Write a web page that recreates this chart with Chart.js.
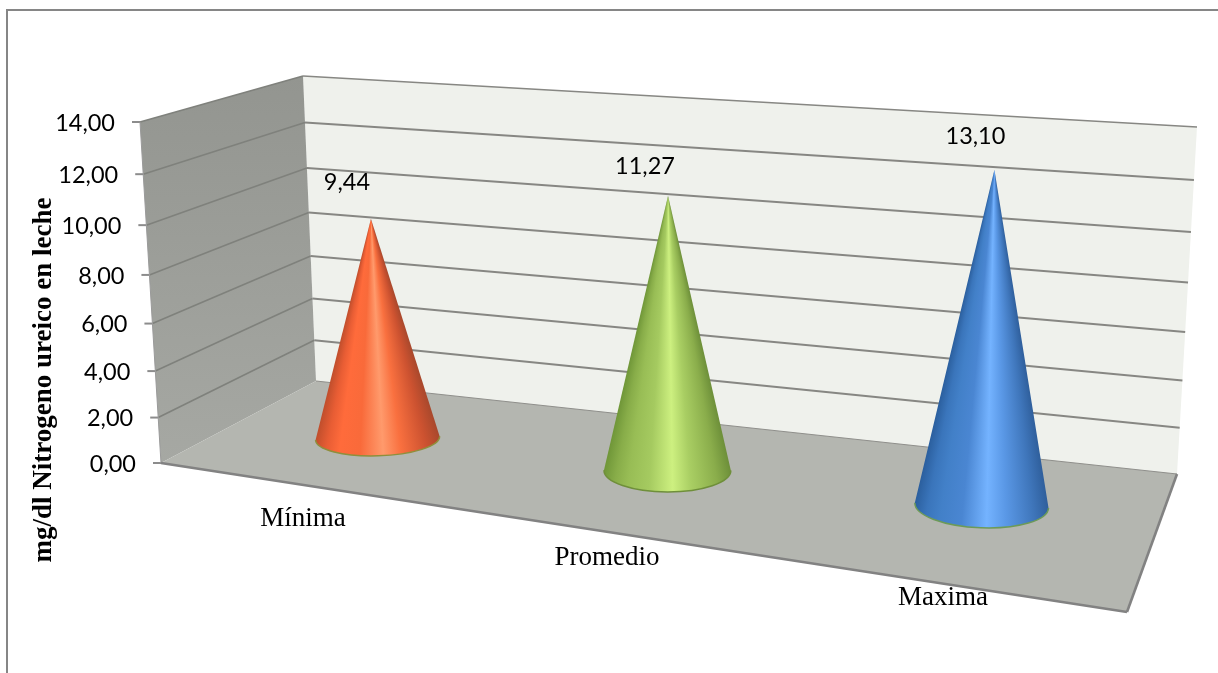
<!DOCTYPE html>
<html lang="es">
<head>
<meta charset="utf-8">
<title>Nitrogeno ureico en leche</title>
<script src="https://cdn.jsdelivr.net/npm/chart.js@4/dist/chart.umd.min.js"></script>
<style>
  html, body { margin: 0; padding: 0; background: #fff; }
  canvas { display: block; }
</style>
</head>
<body>
<canvas id="urea-chart" width="1218" height="673"></canvas>
<script>
const categories = ["Mínima", "Promedio", "Maxima"];
const ureaValues = [9.44, 11.27, 13.10];
const axisMax = 14;
const axisStep = 2;
const axisTitle = "mg/dl Nitrogeno ureico en leche";

// Geometria de la caja 3D: bl, br, tr, tl de cada plano
const BACK_WALL = [[316, 381], [1177, 474], [1197, 127], [303, 76]];
const SIDE_WALL = [[161, 463], [316, 381], [303, 76], [140, 122]];
const FLOOR = [[161, 463], [1127, 612], [1177, 474], [316, 381]];
const CONE_PLANE = [[241, 423], [1149, 524], [1170, 156], [226, 95]];

const CONE_COLORS = [
  ["#c04e2c", "#e85d34", "#ff6b3b", "#f96a3a", "#ff9a6c", "#f9703f", "#cc5230", "#a8482c"],
  ["#6f9638", "#88ad49", "#98bd55", "#a5ca60", "#cdf080", "#a9ce63", "#8aad4b", "#6d8f39"],
  ["#2b5f9e", "#3a75bb", "#4280c8", "#4a86d2", "#74b3ff", "#5a98e6", "#3f76bb", "#2f5f9c"]
];
const COLOR_STOPS = [0, 0.1, 0.2, 0.36, 0.54, 0.68, 0.88, 1];
const RIM_COLORS = ["#8f8f3c", "#6f8f3a", "#6c9a58"];
const BASE_FLATTEN = [0.285, 0.34, 0.335];
const BASE_WIDEN = [1.08, 1.02, 0.99];
const LABEL_NUDGE = [[-24, -36], [-23, -29], [-19, -33]];
const CATEGORY_LABEL_POS = [[303, 519], [607, 558], [943, 598]];

const fmt = v => v.toFixed(2).replace(".", ",");

// homografia del cuadrado unidad a un cuadrilatero
function quadMap(q) {
  const [[x0, y0], [x1, y1], [x2, y2], [x3, y3]] = q;
  const dx1 = x1 - x2, dx2 = x3 - x2, sx = x0 - x1 + x2 - x3;
  const dy1 = y1 - y2, dy2 = y3 - y2, sy = y0 - y1 + y2 - y3;
  const den = dx1 * dy2 - dx2 * dy1;
  const g = (sx * dy2 - dx2 * sy) / den;
  const h = (dx1 * sy - sx * dy1) / den;
  const a = x1 - x0 + g * x1, b = x3 - x0 + h * x3;
  const d = y1 - y0 + g * y1, e = y3 - y0 + h * y3;
  return (u, v) => {
    const w = g * u + h * v + 1;
    return { x: (a * u + b * v + x0) / w, y: (d * u + e * v + y0) / w };
  };
}

// las divisiones altas se ven algo mas grandes que las bajas
const lift = v => 0.96 * v / (1 - 0.04 * v);

function line(ctx, a, b, color, width) {
  ctx.strokeStyle = color;
  ctx.lineWidth = width;
  ctx.beginPath();
  ctx.moveTo(a.x, a.y);
  ctx.lineTo(b.x, b.y);
  ctx.stroke();
}

function fillQuad(ctx, q, fill) {
  ctx.fillStyle = fill;
  ctx.beginPath();
  q.forEach((p, i) => i ? ctx.lineTo(p[0], p[1]) : ctx.moveTo(p[0], p[1]));
  ctx.closePath();
  ctx.fill();
}

function drawBox(chart) {
  const ctx = chart.ctx;
  const yScale = chart.scales.y;
  const area = chart.chartArea;
  const back = quadMap(BACK_WALL);
  const side = quadMap(SIDE_WALL);

  ctx.fillStyle = "#fff";
  ctx.fillRect(0, 0, chart.width, chart.height);
  ctx.strokeStyle = "#868686";
  ctx.lineWidth = 2;
  ctx.strokeRect(7, 10, chart.width + 20, chart.height + 20);

  fillQuad(ctx, BACK_WALL, "#eff1ec");
  const sideFill = ctx.createLinearGradient(0, 76, 0, 463);
  sideFill.addColorStop(0, "#939590");
  sideFill.addColorStop(1, "#a6a8a3");
  fillQuad(ctx, SIDE_WALL, sideFill);

  yScale.ticks.forEach(t => {
    const v = lift((area.bottom - yScale.getPixelForValue(t.value)) / area.height);
    const front = side(0, v);
    if (t.value > 0) {
      line(ctx, front, side(1, v), "#7f817c", 1.6);
      line(ctx, back(0, v), back(1, v), "#878783", t.value === axisMax ? 1.4 : 2);
    }
    line(ctx, { x: front.x - 8, y: front.y }, front, "#8c8c8c", 2);

    ctx.fillStyle = "#000";
    ctx.font = '23.5px Lato';
    ctx.textAlign = "right";
    ctx.textBaseline = "middle";
    ctx.fillText(fmt(t.value), front.x - 25, front.y + 1);
  });
  line(ctx, side(0, 0), side(0, 1), "#9a9a9a", 1);

  fillQuad(ctx, FLOOR, "#b4b6b0");
  const floorPts = FLOOR.map(p => ({ x: p[0], y: p[1] }));
  line(ctx, floorPts[3], floorPts[2], "#8f8f8b", 1.2);
  line(ctx, floorPts[0], floorPts[1], "#828282", 2.6);
  line(ctx, floorPts[1], floorPts[2], "#828282", 2.6);
}

function drawCones(chart) {
  const ctx = chart.ctx;
  const area = chart.chartArea;
  const plane = quadMap(CONE_PLANE);
  const bars = chart.getDatasetMeta(0).data;

  bars.forEach((bar, i) => {
    const u = (bar.x - area.left) / area.width;
    const halfU = bar.width / 2 / area.width;
    const v = lift((bar.base - bar.y) / area.height);

    const base = plane(u, 0);
    const tip = plane(u, v);
    const p0 = plane(u - halfU, 0);
    const p1 = plane(u + halfU, 0);
    const rx = Math.hypot(p1.x - p0.x, p1.y - p0.y) / 2 * BASE_WIDEN[i];
    const ry = rx * BASE_FLATTEN[i];
    const rot = Math.atan2(tip.x - base.x, base.y - tip.y);
    const L = { x: base.x - rx * Math.cos(rot), y: base.y - rx * Math.sin(rot) };
    const R = { x: base.x + rx * Math.cos(rot), y: base.y + rx * Math.sin(rot) };

    // el degradado conico converge en la punta del cono
    const angR = Math.atan2(R.y - tip.y, R.x - tip.x);
    const angL = Math.atan2(L.y - tip.y, L.x - tip.x);
    const start = angR - 0.02;
    const grad = ctx.createConicGradient(start, tip.x, tip.y);
    const colors = CONE_COLORS[i];
    grad.addColorStop(0, colors[colors.length - 1]);
    COLOR_STOPS.slice().reverse().forEach((s, k) => {
      const ang = angL + (angR - angL) * s;
      grad.addColorStop((ang - start) / (Math.PI * 2), colors[colors.length - 1 - k]);
    });

    ctx.fillStyle = grad;
    ctx.beginPath();
    ctx.moveTo(tip.x, tip.y);
    ctx.lineTo(L.x, L.y);
    ctx.ellipse(base.x, base.y, rx, ry, rot, Math.PI, 0, true);
    ctx.closePath();
    ctx.fill();

    ctx.strokeStyle = RIM_COLORS[i];
    ctx.lineWidth = 1.5;
    ctx.beginPath();
    ctx.ellipse(base.x, base.y, rx, ry, rot, Math.PI, 0, true);
    ctx.stroke();

    ctx.fillStyle = "#000";
    ctx.font = '23.5px Lato';
    ctx.textAlign = "center";
    ctx.textBaseline = "middle";
    ctx.fillText(fmt(ureaValues[i]), tip.x + LABEL_NUDGE[i][0], tip.y + LABEL_NUDGE[i][1]);

    ctx.font = '27px "Liberation Serif"';
    ctx.fillText(categories[i], CATEGORY_LABEL_POS[i][0], CATEGORY_LABEL_POS[i][1]);
  });

  ctx.save();
  ctx.translate(44, 380);
  ctx.rotate(-Math.PI / 2);
  ctx.font = 'bold 27px "Liberation Serif"';
  ctx.textAlign = "center";
  ctx.textBaseline = "middle";
  ctx.fillStyle = "#000";
  ctx.fillText(axisTitle, 0, 0);
  ctx.restore();
}

const boxPlugin = {
  id: "box3d",
  beforeDatasetsDraw: drawBox,
  afterDatasetsDraw: drawCones
};

new Chart(document.getElementById("urea-chart"), {
  type: "bar",
  data: {
    labels: categories,
    datasets: [{
      data: ureaValues,
      backgroundColor: "transparent",
      barPercentage: 0.41,
      categoryPercentage: 1
    }]
  },
  options: {
    responsive: false,
    animation: false,
    layout: { padding: 0 },
    plugins: { legend: { display: false }, tooltip: { enabled: false } },
    scales: {
      x: { display: false },
      y: { display: false, min: 0, max: axisMax, ticks: { stepSize: axisStep } }
    }
  },
  plugins: [boxPlugin]
});
</script>
</body>
</html>
